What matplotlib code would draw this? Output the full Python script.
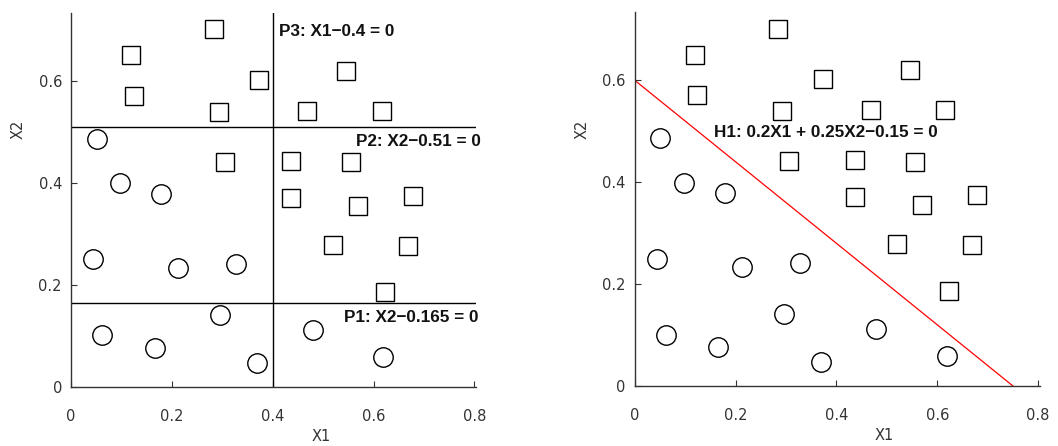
import matplotlib
matplotlib.use('Agg')
import matplotlib.pyplot as plt
import numpy as np

plt.rcParams['font.family'] = ['DejaVu Sans']

# class 1 (squares) and class 2 (circles)
sq_x1 = [0.284, 0.119, 0.124, 0.373, 0.293, 0.546, 0.468, 0.616, 0.305, 0.437,
         0.555, 0.437, 0.570, 0.678, 0.520, 0.669, 0.623]
sq_x2 = [0.701, 0.650, 0.571, 0.602, 0.539, 0.620, 0.541, 0.541, 0.441, 0.443,
         0.440, 0.370, 0.355, 0.374, 0.279, 0.276, 0.186]
ci_x1 = [0.051, 0.097, 0.179, 0.044, 0.213, 0.328, 0.296, 0.062, 0.166, 0.369,
         0.479, 0.619]
ci_x2 = [0.487, 0.399, 0.379, 0.250, 0.233, 0.241, 0.142, 0.101, 0.077, 0.047,
         0.111, 0.059]

# splitting planes
p3_x1 = 0.4
p2_x2 = 0.51
p1_x2 = 0.165
# hyperplane a*X1 + b*X2 + c = 0
h1 = [0.2, 0.25, -0.15]

xticks = [0, 0.2, 0.4, 0.6, 0.8]
xticklabels = ['0', '0.2', '0.4', '0.6', '0.8']
yticks = [0, 0.2, 0.4, 0.6]
yticklabels = ['0', '0.2', '0.4', '0.6']

W, H = 1058, 446
fig = plt.figure(figsize=(W / 100, H / 100), dpi=100)
xmax = 0.803
ymax = 0.733
axL = fig.add_axes([71 / W, (H - 387) / H, 405 / W, 374 / H])
axR = fig.add_axes([634.7 / W, (H - 386) / H, 405 / W, 373.5 / H])

lab_font = dict(family=['Liberation Sans', 'DejaVu Sans'], fontweight='bold', fontsize=12.3, color='#111111')

for ax in (axL, axR):
    ax.plot(sq_x1, sq_x2, 's', ms=13, mfc='white', mec='black', mew=1.0, zorder=3)
    ax.plot(ci_x1, ci_x2, 'o', ms=14, mfc='white', mec='black', mew=1.0, zorder=3)
    ax.set_xlim(0, xmax)
    ax.set_ylim(0, ymax)
    for s in ['top', 'right']:
        ax.spines[s].set_visible(False)
    for s in ['left', 'bottom']:
        ax.spines[s].set_color('#333333')
        ax.spines[s].set_linewidth(1.0)
    ax.set_xticks(xticks)
    ax.set_xticklabels(xticklabels)
    ax.set_yticks(yticks)
    ax.set_yticklabels(yticklabels)
    ax.tick_params(direction='in', length=4, color='#333333', labelcolor='#333333', labelsize=10.5)
    ax.tick_params(axis='x', pad=16)
    ax.tick_params(axis='y', pad=6.5)
    ax.set_xlabel('X1', fontsize=10.5, color='#333333')
    ax.set_ylabel('X2', fontsize=10.5, color='#333333')
    ax.xaxis.set_label_coords(0.617, -0.113)
    ax.yaxis.set_label_coords(-0.111, 0.688)

# left: axis-parallel splits
axL.axvline(p3_x1, color='black', lw=1.0, zorder=2)
axL.plot([0, xmax], [p2_x2, p2_x2], color='black', lw=1.0, zorder=2)
axL.plot([0, xmax], [p1_x2, p1_x2], color='black', lw=1.0, zorder=2)
axL.text(0.412, 0.697, 'P3: X1−0.4 = 0', ha='left', va='center', **lab_font)
axL.text(0.812, 0.481, 'P2: X2−0.51 = 0', ha='right', va='center', **lab_font)
axL.text(0.808, 0.136, 'P1: X2−0.165 = 0', ha='right', va='center', **lab_font)
for t in axL.texts:
    t.set_clip_on(False)

# right: oblique hyperplane
a, b, c = h1
hx = np.array([0, -c / a])
hy = (-c - a * hx) / b
axR.plot(hx, hy, color='red', lw=0.9, zorder=2)
axR.text(0.157, 0.497, 'H1: 0.2X1 + 0.25X2−0.15 = 0', ha='left', va='center', **lab_font)

fig.savefig('out.png', dpi=100)
